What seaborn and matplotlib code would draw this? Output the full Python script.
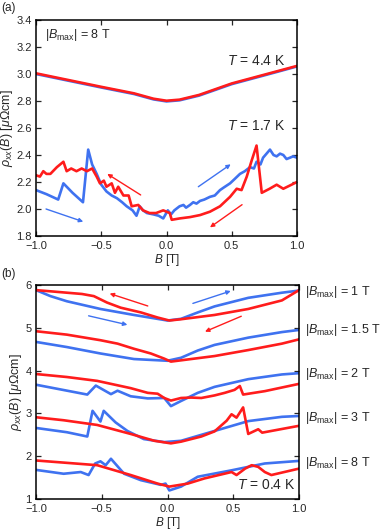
import numpy as np
import pandas as pd
import matplotlib
matplotlib.use("Agg")
import matplotlib.pyplot as plt
import seaborn as sns
sns.set_style("ticks")

plt.rcParams['font.family'] = ['Liberation Sans', 'DejaVu Sans']
plt.rcParams['mathtext.fontset'] = 'custom'
plt.rcParams['mathtext.rm'] = 'Liberation Sans'
plt.rcParams['mathtext.it'] = 'Liberation Sans:italic'
plt.rcParams['mathtext.bf'] = 'Liberation Sans:bold'

RED = '#ff1c1c'
BLUE = '#3f72f0'

# ---- panel (a) data ----
# T = 4.4 K (up and down sweep nearly identical)
b_44 = [-1.0, -0.75, -0.5, -0.25, -0.1, 0.0, 0.1, 0.25, 0.5, 0.75, 1.0]
rho_44_up = [3.0, 2.95, 2.9, 2.852, 2.812, 2.797, 2.805, 2.84, 2.925, 2.99, 3.056]
rho_44_down = [3.005, 2.955, 2.905, 2.857, 2.817, 2.802, 2.81, 2.845, 2.93, 2.995, 3.06]

# T = 1.7 K
b_17_up = [-1.0, -0.92, -0.83, -0.79, -0.72, -0.64, -0.60, -0.57, -0.535, -0.50, -0.46,
           -0.42, -0.38, -0.34, -0.305, -0.26, -0.23, -0.205, -0.18, -0.15, -0.10, -0.06,
           -0.025, 0.01, 0.035, 0.06, 0.10, 0.13, 0.15, 0.18, 0.205, 0.23, 0.257, 0.29,
           0.333, 0.37, 0.41, 0.44, 0.487, 0.52, 0.563, 0.60, 0.64, 0.67, 0.69, 0.72,
           0.74, 0.793, 0.82, 0.844, 0.87, 0.895, 0.92, 0.946, 0.97, 1.0]
rho_17_up = [2.14, 2.11, 2.07, 2.19, 2.12, 2.05, 2.44, 2.33, 2.26, 2.18, 2.13,
             2.10, 2.08, 2.05, 2.02, 1.99, 1.95, 2.02, 1.99, 1.97, 1.96, 1.95,
             1.93, 1.99, 1.96, 1.99, 2.02, 2.03, 2.01, 2.03, 2.05, 2.04, 2.06, 2.07,
             2.09, 2.10, 2.14, 2.16, 2.19, 2.22, 2.26, 2.28, 2.31, 2.30, 2.35, 2.33,
             2.38, 2.44, 2.40, 2.39, 2.41, 2.40, 2.37, 2.38, 2.39, 2.38]
b_17_down = [-1.0, -0.97, -0.944, -0.92, -0.89, -0.84, -0.79, -0.765, -0.73, -0.69, -0.65,
             -0.61, -0.57, -0.535, -0.51, -0.48, -0.46, -0.42, -0.395, -0.37, -0.33, -0.29,
             -0.267, -0.216, -0.18, -0.13, -0.08, -0.025, 0.025, 0.04, 0.10, 0.18, 0.257,
             0.333, 0.41, 0.487, 0.538, 0.575, 0.615, 0.653, 0.69, 0.73, 0.79, 0.844,
             0.895, 1.0]
rho_17_down = [2.25, 2.24, 2.28, 2.26, 2.26, 2.31, 2.35, 2.28, 2.30, 2.28, 2.30,
               2.28, 2.30, 2.24, 2.19, 2.21, 2.165, 2.19, 2.12, 2.165, 2.10, 2.10,
               2.02, 2.03, 1.99, 1.97, 1.97, 1.99, 1.97, 1.92, 1.93, 1.94, 1.955,
               1.98, 2.02, 2.09, 2.15, 2.14, 2.24, 2.36, 2.47, 2.12, 2.15, 2.18,
               2.15, 2.20]

# ---- panel (b) data, T = 0.4 K ----
bmax_labels = ['1', '1.5', '2', '3', '8']

b_1t_down = [-1.0, -0.88, -0.765, -0.65, -0.56, -0.46, -0.356, -0.203, -0.075, 0.014,
             0.103, 0.358, 0.614, 0.87, 1.0]
rho_1t_down = [5.88, 5.85, 5.82, 5.79, 5.74, 5.59, 5.47, 5.36, 5.24, 5.17,
               5.20, 5.30, 5.44, 5.64, 5.88]
b_1t_up = [-1.0, -0.89, -0.765, -0.51, -0.255, 0.0, 0.103, 0.231, 0.358, 0.614, 0.87, 1.0]
rho_1t_up = [5.88, 5.74, 5.62, 5.44, 5.30, 5.17, 5.21, 5.36, 5.50, 5.70, 5.82, 5.87]

b_15t_down = [-1.0, -0.765, -0.51, -0.38, -0.255, -0.127, -0.025, 0.026, 0.103, 0.358,
              0.614, 0.87, 1.0]
rho_15t_down = [4.92, 4.84, 4.71, 4.63, 4.51, 4.40, 4.28, 4.21, 4.24, 4.34,
                4.48, 4.63, 4.73]
b_15t_up = [-1.0, -0.765, -0.51, -0.255, 0.0, 0.103, 0.231, 0.358, 0.614, 0.87, 1.0]
rho_15t_up = [4.67, 4.55, 4.40, 4.27, 4.23, 4.30, 4.47, 4.60, 4.77, 4.90, 4.95]

b_2t_down = [-1.0, -0.765, -0.535, -0.28, -0.15, -0.075, -0.025, 0.026, 0.103, 0.18,
             0.257, 0.358, 0.435, 0.51, 0.55, 0.575, 0.74, 1.0]
rho_2t_down = [3.92, 3.85, 3.76, 3.59, 3.48, 3.46, 3.36, 3.30, 3.36, 3.37,
               3.36, 3.42, 3.48, 3.55, 3.64, 3.44, 3.52, 3.69]
b_2t_up = [-1.0, -0.61, -0.545, -0.43, -0.38, -0.28, -0.15, -0.025, 0.026, 0.103,
           0.23, 0.358, 0.614, 0.87, 1.0]
rho_2t_up = [3.67, 3.44, 3.65, 3.45, 3.53, 3.40, 3.35, 3.36, 3.17, 3.29,
             3.48, 3.62, 3.80, 3.91, 3.94]

b_3t_down = [-1.0, -0.79, -0.535, -0.28, -0.10, 0.026, 0.103, 0.257, 0.358, 0.45,
             0.487, 0.525, 0.575, 0.614, 0.69, 0.72, 1.0]
rho_3t_down = [2.91, 2.84, 2.73, 2.52, 2.36, 2.30, 2.34, 2.46, 2.58, 2.83,
               2.98, 2.90, 3.14, 2.52, 2.63, 2.55, 2.71]
b_3t_up = [-1.0, -0.765, -0.61, -0.57, -0.51, -0.485, -0.395, -0.305, -0.18, -0.025,
           0.103, 0.358, 0.614, 0.87, 1.0]
rho_3t_up = [2.66, 2.56, 2.46, 3.06, 2.81, 3.06, 2.79, 2.59, 2.40, 2.33,
             2.36, 2.59, 2.82, 2.92, 2.94]

b_8t_down = [-1.0, -0.535, -0.28, -0.075, 0.014, 0.154, 0.28, 0.487, 0.525, 0.59,
             0.64, 0.69, 0.74, 0.79, 1.0]
rho_8t_down = [1.90, 1.79, 1.56, 1.36, 1.29, 1.36, 1.48, 1.63, 1.56, 1.71,
               1.79, 1.75, 1.63, 1.56, 1.71]
b_8t_up = [-1.0, -0.79, -0.66, -0.60, -0.55, -0.51, -0.47, -0.43, -0.33, -0.203,
           -0.05, -0.015, 0.014, 0.103, 0.23, 0.487, 0.74, 1.0]
rho_8t_up = [1.68, 1.59, 1.63, 1.56, 1.83, 1.88, 1.79, 1.94, 1.59, 1.44,
             1.33, 1.36, 1.20, 1.29, 1.52, 1.67, 1.83, 1.89]

curves_b = [
    (b_1t_up, rho_1t_up, b_1t_down, rho_1t_down),
    (b_15t_up, rho_15t_up, b_15t_down, rho_15t_down),
    (b_2t_up, rho_2t_up, b_2t_down, rho_2t_down),
    (b_3t_up, rho_3t_up, b_3t_down, rho_3t_down),
    (b_8t_up, rho_8t_up, b_8t_down, rho_8t_down),
]


def draw(ax, b, rho, color):
    df = pd.DataFrame({'B': b, 'rho': rho})
    sns.lineplot(data=df, x='B', y='rho', ax=ax, color=color, lw=1.9,
                 sort=False, estimator=None, solid_joinstyle='round')


def arrow(ax, start, end, color):
    ax.annotate('', xy=end, xytext=start,
                arrowprops=dict(arrowstyle='-|>', color=color, lw=1.0,
                                mutation_scale=6, shrinkA=0, shrinkB=0))


def style_axes(ax):
    ax.tick_params(direction='in', top=True, right=True, length=3.5, width=0.9,
                   labelsize=8, pad=3)
    ax.tick_params(axis='x', pad=3.5)
    for s in ax.spines.values():
        s.set_linewidth(1.1)
        s.set_color('black')
    ax.set_xlim(-1, 1)
    ax.set_xticks([-1.0, -0.5, 0.0, 0.5, 1.0])
    ax.set_xticklabels(['\u22121.0', '\u22120.5', '0.0', '0.5', '1.0'])
    ax.set_xlabel('$B$ [T]', fontsize=8.5, labelpad=0.5)
    ax.set_ylabel(r'$\rho_{xx}(B)$ [$\mu\Omega$cm]', fontsize=9, labelpad=1)


fig = plt.figure(figsize=(3.82, 5.31), dpi=100)
ax_a = fig.add_axes([36 / 382, 1 - 236 / 531, 261 / 382, 216 / 531])
ax_b = fig.add_axes([36 / 382, 1 - 499 / 531, 263 / 382, 214 / 531])

# panel (a)
draw(ax_a, b_44, rho_44_up, BLUE)
draw(ax_a, b_44, rho_44_down, RED)
draw(ax_a, b_17_up, rho_17_up, BLUE)
draw(ax_a, b_17_down, rho_17_down, RED)
arrow(ax_a, (-0.923, 2.0), (-0.638, 1.906), BLUE)
arrow(ax_a, (-0.198, 2.104), (-0.454, 2.26), RED)
arrow(ax_a, (0.244, 2.165), (0.492, 2.331), BLUE)
arrow(ax_a, (0.579, 2.032), (0.333, 1.864), RED)
ax_a.set_ylim(1.8, 3.4)
ax_a.set_yticks(np.arange(1.8, 3.41, 0.2))
ax_a.set_yticklabels(['%.1f' % v for v in np.arange(1.8, 3.41, 0.2)])
style_axes(ax_a)
ax_a.text(0.035, 0.93, r'$|B_{\mathrm{max}}|$ = 8 T', transform=ax_a.transAxes,
          fontsize=9, ha='left', va='center')
ax_a.text(0.955, 0.81, '$T$ = 4.4 K', transform=ax_a.transAxes,
          fontsize=10, ha='right', va='center')
ax_a.text(0.955, 0.51, '$T$ = 1.7 K', transform=ax_a.transAxes,
          fontsize=10, ha='right', va='center')

# panel (b)
for b_up, r_up, b_dn, r_dn in curves_b:
    draw(ax_b, b_up, r_up, BLUE)
    draw(ax_b, b_dn, r_dn, RED)
arrow(ax_b, (-0.15, 5.51), (-0.44, 5.80), RED)
arrow(ax_b, (-0.6, 5.28), (-0.305, 5.07), BLUE)
arrow(ax_b, (0.193, 5.57), (0.481, 5.86), BLUE)
arrow(ax_b, (0.561, 5.27), (0.285, 4.91), RED)
ax_b.set_ylim(1, 6)
ax_b.set_yticks([1, 2, 3, 4, 5, 6])
style_axes(ax_b)
label_y = [5.83, 4.94, 3.91, 2.90, 1.85]
for lab, yv in zip(bmax_labels, label_y):
    ax_b.text(1.023, yv, r'$|B_{\mathrm{max}}|$ = ' + lab + ' T',
              transform=ax_b.get_yaxis_transform(), fontsize=9,
              ha='left', va='center', clip_on=False)
ax_b.text(0.985, 0.035, '$T$ = 0.4 K', transform=ax_b.transAxes,
          fontsize=10, ha='right', va='bottom')

fig.text(0.003, 1 - 8 / 531, '(a)', fontsize=8.5, ha='left', va='center')
fig.text(0.003, 1 - 274 / 531, '(b)', fontsize=8.5, ha='left', va='center')

fig.savefig('out.png', dpi=100)
